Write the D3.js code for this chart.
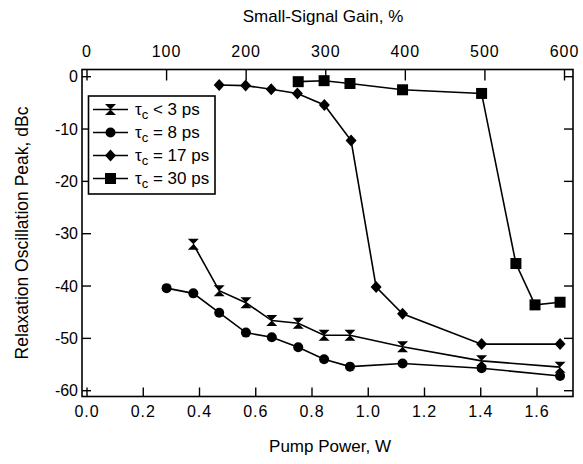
<!DOCTYPE html>
<html>
<head>
<meta charset="utf-8">
<script src="https://cdn.jsdelivr.net/npm/d3@7"></script>
<style>
  body { margin: 0; background: #fff; }
  svg { font-family: 'Liberation Sans', Arial, sans-serif; }
</style>
</head>
<body>
<div class="chart"></div>
<script>
'use strict'

// pump power, W
const power3 = [0.378, 0.47, 0.565, 0.657, 0.751, 0.843, 0.935, 1.122, 1.403, 1.682]
const peak3 = [-32, -40.9, -43.2, -46.6, -47.1, -49.4, -49.4, -51.6, -54.3, -55.5]

const power8 = [0.283, 0.378, 0.47, 0.565, 0.657, 0.751, 0.843, 0.935, 1.122, 1.403, 1.682]
const peak8 = [-40.4, -41.4, -45.1, -48.9, -49.8, -51.7, -54.0, -55.4, -54.8, -55.7, -57.2]

const power17 = [0.47, 0.564, 0.655, 0.748, 0.844, 0.939, 1.028, 1.122, 1.403, 1.682]
const peak17 = [-1.6, -1.7, -2.4, -3.2, -5.4, -12.2, -40.2, -45.3, -51.1, -51.1]

const power30 = [0.751, 0.843, 0.935, 1.122, 1.403, 1.525, 1.593, 1.682]
const peak30 = [-0.95, -0.76, -1.3, -2.5, -3.2, -35.7, -43.6, -43.1]

const legendNames = ['< 3 ps', '= 8 ps', '= 17 ps', '= 30 ps']
const bottomTicks = [0, 0.2, 0.4, 0.6, 0.8, 1.0, 1.2, 1.4, 1.6]
const topTicks = [0, 100, 200, 300, 400, 500, 600]
const leftTicks = [0, -10, -20, -30, -40, -50, -60]

const width = 583
const height = 464
const frame = { left: 82, right: 573, top: 69.5, bottom: 396.5 }

const x = d3.scaleLinear().domain([0, 1.6]).range([87, 537])
const xTop = d3.scaleLinear().domain([0, 600]).range([87, 564.5])
const y = d3.scaleLinear().domain([0, -60]).range([76.7, 390.7])

const svg = d3.select('.chart').append('svg')
    .attr('width', width)
    .attr('height', height)

// frame
svg.append('rect')
    .attr('x', frame.left).attr('y', frame.top)
    .attr('width', frame.right - frame.left).attr('height', frame.bottom - frame.top)
    .style('fill', 'none').style('stroke', '#000').style('stroke-width', 1.6)

const tickLen = 9
const tickStyle = g => g.style('stroke', '#000').style('stroke-width', 1.4)

svg.append('g').selectAll('line').data(bottomTicks).enter().append('line')
    .attr('x1', d => x(d)).attr('x2', d => x(d))
    .attr('y1', frame.bottom).attr('y2', frame.bottom - tickLen)
    .call(tickStyle)
svg.append('g').selectAll('line').data(topTicks).enter().append('line')
    .attr('x1', d => xTop(d)).attr('x2', d => xTop(d))
    .attr('y1', frame.top).attr('y2', frame.top + tickLen + 2)
    .call(tickStyle)
svg.append('g').selectAll('line').data(leftTicks).enter().append('line')
    .attr('x1', frame.left).attr('x2', frame.left + tickLen)
    .attr('y1', d => y(d)).attr('y2', d => y(d))
    .call(tickStyle)
svg.append('g').selectAll('line').data(leftTicks).enter().append('line')
    .attr('x1', frame.right).attr('x2', frame.right - tickLen)
    .attr('y1', d => y(d)).attr('y2', d => y(d))
    .call(tickStyle)

// tick labels
svg.append('g').selectAll('text').data(bottomTicks).enter().append('text')
    .attr('x', d => x(d)).attr('y', 417)
    .attr('text-anchor', 'middle')
    .style('font-size', '16px').style('letter-spacing', '1px')
    .text(d => d.toFixed(1))
svg.append('g').selectAll('text').data(topTicks).enter().append('text')
    .attr('x', d => xTop(d)).attr('y', 57)
    .attr('text-anchor', 'middle')
    .style('font-size', '16px').style('letter-spacing', '1px')
    .text(d => d)
svg.append('g').selectAll('text').data(leftTicks).enter().append('text')
    .attr('x', 78).attr('y', d => y(d) + 5.5)
    .attr('text-anchor', 'end')
    .style('font-size', '16px')
    .text(d => d)

// axis titles
svg.append('text')
    .attr('x', 330).attr('y', 452)
    .attr('text-anchor', 'middle')
    .style('font-size', '17px')
    .text('Pump Power, W')
svg.append('text')
    .attr('x', 323).attr('y', 22)
    .attr('text-anchor', 'middle')
    .style('font-size', '17px')
    .text('Small-Signal Gain, %')
svg.append('text')
    .attr('transform', 'translate(28,233) rotate(-90)')
    .attr('text-anchor', 'middle')
    .style('font-size', '17.5px')
    .text('Relaxation Oscillation Peak, dBc')

// markers
const markers = {
  hourglass: g => g.append('path').attr('d', 'M-5.5,-5.5L5.5,-5.5L0,0L5.5,5.5L-5.5,5.5L0,0Z'),
  circle: g => g.append('circle').attr('r', 5),
  diamond: g => g.append('path').attr('d', 'M0,-6L5.5,0L0,6L-5.5,0Z'),
  square: g => g.append('rect').attr('x', -5.5).attr('y', -5.5).attr('width', 11).attr('height', 11)
}

const series = [
  { xs: power3, ys: peak3, marker: 'hourglass' },
  { xs: power8, ys: peak8, marker: 'circle' },
  { xs: power17, ys: peak17, marker: 'diamond' },
  { xs: power30, ys: peak30, marker: 'square' }
]

const line = d3.line().x(d => x(d[0])).y(d => y(d[1]))

series.forEach(function(s) {
  const pts = s.xs.map((v, i) => [v, s.ys[i]])
  svg.append('path')
      .datum(pts)
      .attr('d', line)
      .style('fill', 'none').style('stroke', '#000').style('stroke-width', 1.6)
  svg.append('g').selectAll('g').data(pts).enter().append('g')
      .attr('transform', d => 'translate(' + x(d[0]) + ',' + y(d[1]) + ')')
      .each(function() { markers[s.marker](d3.select(this)) })
      .style('fill', '#000')
})

// legend
const legend = svg.append('g')
legend.append('rect')
    .attr('x', 88.5).attr('y', 96).attr('width', 126.5).attr('height', 98)
    .style('fill', '#fff').style('stroke', '#000').style('stroke-width', 1.6)

const rowY = [109.5, 132.5, 155.5, 178.5]
series.forEach(function(s, i) {
  const row = legend.append('g').attr('transform', 'translate(0,' + rowY[i] + ')')
  row.append('line')
      .attr('x1', 93).attr('x2', 128).attr('y1', 0).attr('y2', 0)
      .style('stroke', '#000').style('stroke-width', 1.6)
  const m = row.append('g').attr('transform', 'translate(110.5,0)').style('fill', '#000')
  markers[s.marker](m)
  const t = row.append('text')
      .attr('x', 135).attr('y', 5)
      .style('font-size', '17px')
  t.append('tspan').text('\u03c4')
  t.append('tspan').attr('dy', 4).style('font-size', '13px').text('c')
  t.append('tspan').attr('dy', -4).text(' ' + legendNames[i])
})
</script>
</body>
</html>
